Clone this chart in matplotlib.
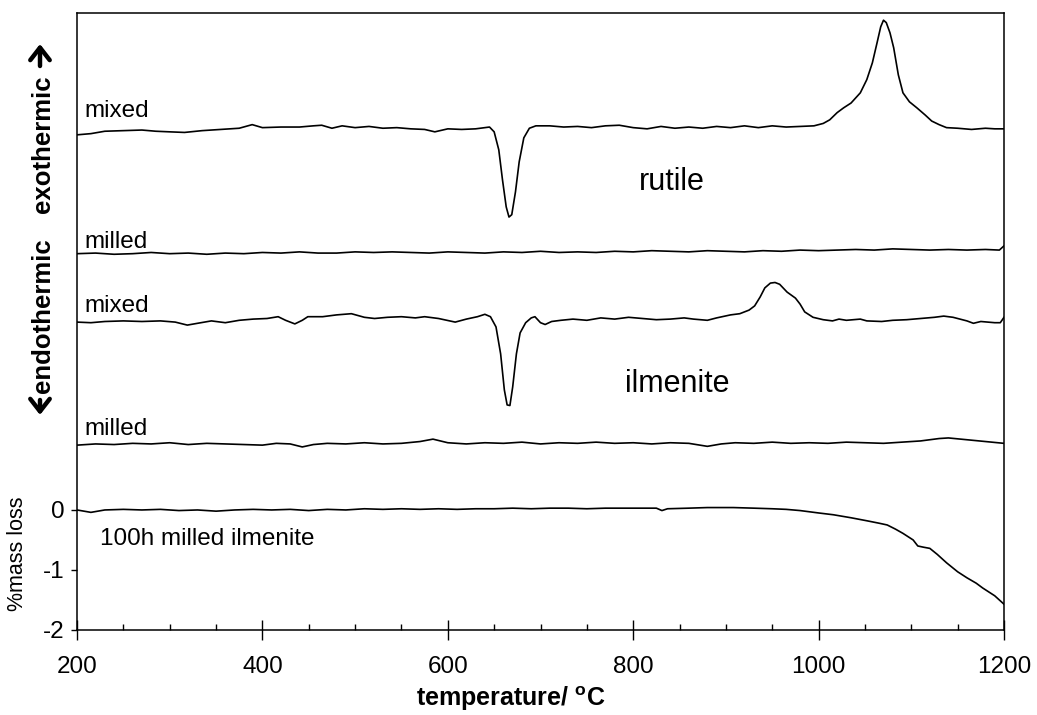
import matplotlib
matplotlib.use("Agg")
import matplotlib.pyplot as plt
from matplotlib.ticker import MultipleLocator, FixedLocator

plt.rcParams['font.family'] = ['Liberation Sans', 'DejaVu Sans']
plt.rcParams['mathtext.fontset'] = 'custom'
plt.rcParams['mathtext.bf'] = 'Liberation Sans:bold'
plt.rcParams['mathtext.rm'] = 'Liberation Sans'
plt.rcParams['axes.unicode_minus'] = False

# DTA traces are drawn offset above the TG curve (arbitrary units),
# TG curve is % mass loss, shares the same y axis (0 .. -2)

# rutile, mixed
rut_mix_t = [200, 215, 230, 250, 270, 285, 300, 316, 335, 355, 375, 389, 400, 420, 440, 455,
             464, 475, 486, 500, 515, 530, 545, 560, 575, 586, 600, 615, 630, 640, 645, 650,
             655, 659, 663, 666, 669, 673, 677, 682, 688, 695, 710, 725, 740, 755, 770, 785,
             800, 815, 830, 845, 860, 875, 890, 905, 920, 935, 950, 965, 980, 995, 1005, 1012,
             1020, 1027, 1035, 1045, 1052, 1058, 1063, 1067, 1070, 1073, 1077, 1081, 1086, 1091,
             1098, 1106, 1115, 1122, 1130, 1138, 1150, 1165, 1180, 1190, 1200]
rut_mix_v = [6.25, 6.27, 6.31, 6.32, 6.33, 6.31, 6.30, 6.29, 6.32, 6.34, 6.36, 6.42, 6.37, 6.38, 6.38, 6.40,
             6.41, 6.36, 6.40, 6.37, 6.39, 6.36, 6.37, 6.35, 6.34, 6.30, 6.35, 6.34, 6.35, 6.37, 6.38, 6.30,
             6.00, 5.50, 5.05, 4.88, 4.92, 5.30, 5.80, 6.20, 6.36, 6.40, 6.40, 6.38, 6.39, 6.37, 6.40, 6.41,
             6.37, 6.35, 6.39, 6.36, 6.38, 6.36, 6.39, 6.37, 6.40, 6.37, 6.40, 6.38, 6.39, 6.40, 6.44, 6.50,
             6.62, 6.70, 6.78, 6.95, 7.17, 7.45, 7.78, 8.05, 8.16, 8.12, 7.95, 7.70, 7.25, 6.95,
             6.80, 6.70, 6.58, 6.48, 6.42, 6.37, 6.36, 6.34, 6.36, 6.35, 6.35]

# rutile, milled
rut_mil_t = [200, 220, 240, 260, 280, 300, 320, 340, 360, 380, 400, 420, 440, 460, 480, 500,
             520, 540, 560, 580, 600, 620, 640, 660, 680, 700, 720, 740, 760, 780, 800, 820,
             840, 860, 880, 900, 920, 940, 960, 980, 1000, 1020, 1040, 1060, 1080, 1100, 1120,
             1140, 1160, 1180, 1195, 1200]
rut_mil_v = [4.27, 4.28, 4.26, 4.27, 4.29, 4.27, 4.28, 4.26, 4.28, 4.27, 4.29, 4.28, 4.30, 4.28, 4.28, 4.30,
             4.29, 4.30, 4.29, 4.28, 4.30, 4.29, 4.28, 4.30, 4.29, 4.31, 4.29, 4.30, 4.29, 4.31, 4.30, 4.32,
             4.31, 4.30, 4.32, 4.31, 4.30, 4.32, 4.31, 4.33, 4.32, 4.33, 4.34, 4.33, 4.35, 4.34, 4.33,
             4.34, 4.33, 4.34, 4.33, 4.40]

# ilmenite, mixed
ilm_mix_t = [200, 215, 230, 250, 270, 290, 306, 319, 330, 345, 360, 375, 390, 405, 417, 425,
             435, 443, 449, 465, 480, 496, 510, 521, 535, 550, 565, 575, 590, 608, 620, 632,
             640, 646, 652, 657, 661, 664, 667, 670, 674, 678, 684, 690, 694, 700, 705, 712,
             722, 735, 750, 765, 780, 795, 810, 825, 840, 855, 865, 880, 890, 905, 915, 925,
             931, 937, 942, 948, 953, 958, 966, 975, 980, 985, 994, 1005, 1015, 1022, 1030, 1045,
             1052, 1068, 1080, 1095, 1110, 1125, 1135, 1145, 1160, 1167, 1175, 1190, 1196, 1200]
ilm_mix_v = [3.13, 3.12, 3.14, 3.15, 3.14, 3.15, 3.13, 3.08, 3.11, 3.15, 3.12, 3.16, 3.18, 3.19, 3.22, 3.16,
             3.10, 3.16, 3.22, 3.22, 3.25, 3.27, 3.21, 3.19, 3.21, 3.22, 3.20, 3.22, 3.19, 3.13, 3.18, 3.22,
             3.26, 3.22, 3.05, 2.60, 2.00, 1.75, 1.74, 2.05, 2.60, 2.95, 3.12, 3.20, 3.22, 3.12, 3.09, 3.14,
             3.16, 3.18, 3.16, 3.20, 3.18, 3.21, 3.19, 3.17, 3.18, 3.20, 3.18, 3.16, 3.20, 3.25, 3.27, 3.33,
             3.40, 3.55, 3.70, 3.78, 3.79, 3.76, 3.63, 3.53, 3.43, 3.30, 3.21, 3.17, 3.15, 3.18, 3.16, 3.18,
             3.15, 3.14, 3.16, 3.17, 3.19, 3.21, 3.23, 3.21, 3.15, 3.11, 3.14, 3.12, 3.12, 3.21]

# ilmenite, milled
ilm_mil_t = [200, 220, 240, 260, 280, 300, 320, 340, 360, 380, 400, 415, 430, 443, 455, 470,
             490, 510, 530, 550, 570, 584, 600, 620, 640, 660, 680, 700, 720, 740, 760, 780,
             800, 820, 840, 860, 880, 895, 910, 930, 950, 970, 990, 1010, 1030, 1050, 1070, 1090,
             1110, 1130, 1140, 1160, 1180, 1200]
ilm_mil_v = [1.08, 1.10, 1.09, 1.11, 1.10, 1.12, 1.09, 1.11, 1.10, 1.09, 1.08, 1.11, 1.10, 1.05, 1.09, 1.11,
             1.10, 1.12, 1.10, 1.11, 1.14, 1.18, 1.12, 1.10, 1.12, 1.11, 1.13, 1.10, 1.12, 1.11, 1.13, 1.11,
             1.12, 1.10, 1.12, 1.11, 1.06, 1.10, 1.12, 1.11, 1.13, 1.11, 1.12, 1.11, 1.13, 1.12, 1.11, 1.13,
             1.15, 1.19, 1.20, 1.17, 1.14, 1.11]

# TG, 100h milled ilmenite (% mass loss)
tg_t = [200, 215, 230, 250, 270, 290, 310, 330, 350, 370, 390, 410, 430, 450, 470, 490,
        510, 530, 550, 570, 590, 610, 630, 650, 670, 690, 710, 730, 750, 770, 790, 810,
        825, 831, 837, 860, 880, 908, 930, 950, 965, 980, 1000, 1016, 1035, 1052, 1065, 1074,
        1083, 1091, 1102, 1107, 1113, 1120, 1128, 1138, 1150, 1160, 1170, 1177, 1190, 1200]
tg_v = [0.00, -0.04, 0.00, 0.01, 0.00, 0.01, -0.01, 0.00, -0.02, 0.00, 0.01, 0.00, 0.01, -0.01, 0.01, 0.00,
        0.02, 0.01, 0.02, 0.01, 0.02, 0.01, 0.02, 0.02, 0.03, 0.02, 0.03, 0.03, 0.02, 0.03, 0.03, 0.03,
        0.03, -0.01, 0.02, 0.03, 0.04, 0.04, 0.03, 0.02, 0.01, -0.01, -0.05, -0.08, -0.13, -0.18, -0.22, -0.25,
        -0.32, -0.39, -0.50, -0.60, -0.62, -0.64, -0.74, -0.88, -1.03, -1.13, -1.22, -1.30, -1.43, -1.57]

fig = plt.figure(figsize=(10.37, 7.15), dpi=100)
ax = fig.add_axes([77/1037, 1 - 630/715, 927/1037, 617/715])

for t, v in [(rut_mix_t, rut_mix_v), (rut_mil_t, rut_mil_v), (ilm_mix_t, ilm_mix_v),
             (ilm_mil_t, ilm_mil_v), (tg_t, tg_v)]:
    ax.plot(t, v, color='black', lw=1.2)

ax.set_xlim(200, 1200)
ax.set_ylim(-2, 8.28)

ax.xaxis.set_major_locator(MultipleLocator(200))
ax.xaxis.set_minor_locator(MultipleLocator(50))
ax.yaxis.set_major_locator(FixedLocator([-2, -1, 0]))
ax.tick_params(axis='x', which='major', direction='inout', length=14, width=1, pad=12, labelsize=17.5)
ax.tick_params(axis='x', which='minor', direction='in', length=4.5, width=1)
ax.tick_params(axis='y', which='major', direction='out', length=4, width=1, pad=5, labelsize=17.5)
for sp in ax.spines.values():
    sp.set_linewidth(1.1)

# curve labels
ax.text(208, 6.55, 'mixed', fontsize=17.5, va='baseline')
ax.text(208, 4.37, 'milled', fontsize=17.5, va='baseline')
ax.text(208, 3.30, 'mixed', fontsize=17.5, va='baseline')
ax.text(208, 1.25, 'milled', fontsize=17.5, va='baseline')
ax.text(806, 5.33, 'rutile', fontsize=22, va='baseline')
ax.text(904, 1.97, 'ilmenite', fontsize=22, va='baseline', ha='right')
ax.text(225, -0.58, '100h milled ilmenite', fontsize=17.5, va='baseline')

# y axis captions
fig.text(18/1037, 1 - 554/715, '%mass loss', rotation=90, fontsize=15.5,
         ha='center', va='center')
fig.text(43/1037, 1 - 144/715, 'exothermic', rotation=90, fontsize=18.5,
         fontweight='bold', ha='center', va='center')
fig.text(43/1037, 1 - 316/715, 'endothermic', rotation=90, fontsize=18.5,
         fontweight='bold', ha='center', va='center')
# heavy open-headed arrows at both ends of the caption
arrow = dict(arrowstyle='->, head_length=0.45, head_width=0.35', lw=3.2,
             color='black', mutation_scale=20, shrinkA=0, shrinkB=0)
ax.annotate('', xy=(40/1037, 1 - 44/715), xytext=(40/1037, 1 - 66/715),
            xycoords='figure fraction', textcoords='figure fraction', arrowprops=arrow,
            annotation_clip=False)
ax.annotate('', xy=(40/1037, 1 - 415/715), xytext=(40/1037, 1 - 400/715),
            xycoords='figure fraction', textcoords='figure fraction', arrowprops=arrow,
            annotation_clip=False)

fig.text(511/1037, 0.012, r'temperature/ $\mathbf{^{o}}$C', fontsize=18, fontweight='bold',
         ha='center', va='baseline')

fig.savefig('out.png', dpi=100)
